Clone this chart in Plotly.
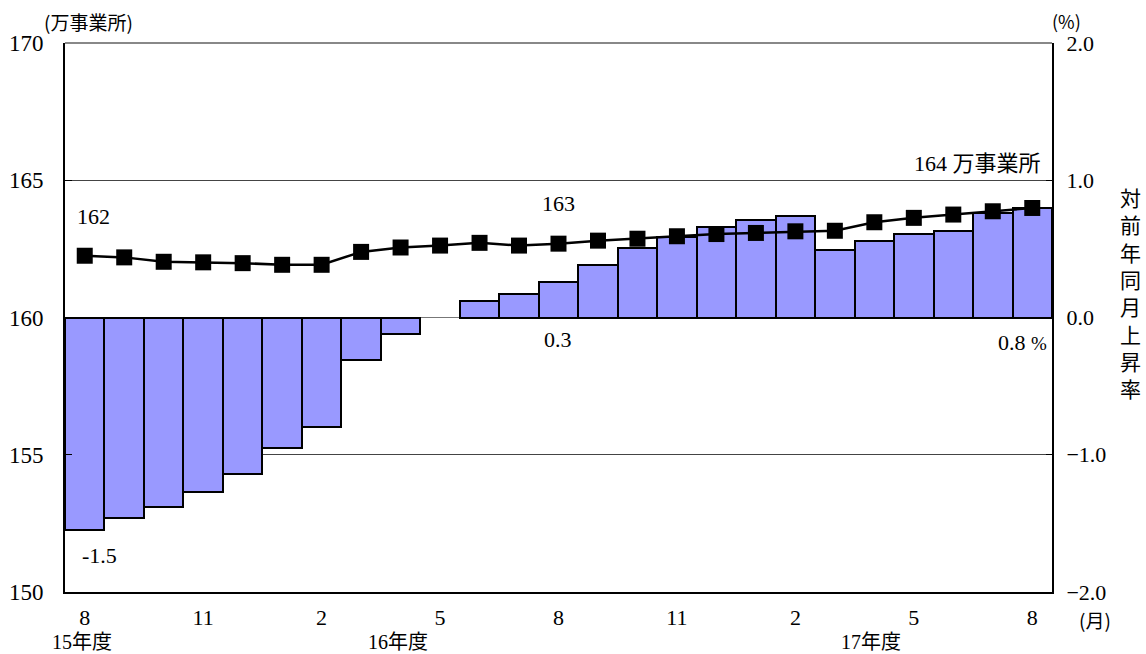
import plotly.graph_objects as go

# ---------------- data ----------------
months = ["2015-08", "2015-09", "2015-10", "2015-11", "2015-12", "2016-01", "2016-02",
          "2016-03", "2016-04", "2016-05", "2016-06", "2016-07", "2016-08", "2016-09",
          "2016-10", "2016-11", "2016-12", "2017-01", "2017-02", "2017-03", "2017-04",
          "2017-05", "2017-06", "2017-07", "2017-08"]

# number of establishments (万事業所), left axis
establishments = [162.25, 162.19, 162.03, 162.01, 161.98, 161.92, 161.92, 162.39, 162.55,
                  162.62, 162.72, 162.62, 162.69, 162.80, 162.87, 162.96, 163.04, 163.08,
                  163.14, 163.16, 163.47, 163.63, 163.75, 163.87, 163.99]

# year-over-year change (%), right axis
yoy_change = [-1.55, -1.46, -1.38, -1.27, -1.14, -0.95, -0.80, -0.31, -0.12, 0.0,
              0.12, 0.17, 0.26, 0.38, 0.51, 0.59, 0.66, 0.71, 0.74, 0.49,
              0.56, 0.61, 0.63, 0.76, 0.80]

tick_months = ["2015-08", "2015-11", "2016-02", "2016-05", "2016-08", "2016-11",
               "2017-02", "2017-05", "2017-08"]
tick_labels = ["8", "11", "2", "5", "8", "11", "2", "5", "8"]

fiscal_labels = ["15年度", "16年度", "17年度"]
fiscal_months = ["2015-08", "2016-04", "2017-04"]

left_ticks = [150, 155, 160, 165, 170]
right_ticks = [-2.0, -1.0, 0.0, 1.0, 2.0]

# ---------------- layout helpers ----------------
W, H = 1146, 654
X0, X1, Y0, Y1 = 65, 1052, 43, 592
FONT = "Liberation Serif, 'Noto Sans CJK JP', serif"
JFONT = "'Noto Sans CJK JP', sans-serif"


def px(x):
    return (x - X0) / (X1 - X0)


def py(y):
    return (Y1 - y) / (Y1 - Y0)


fig = go.Figure()

fig.add_trace(go.Bar(
    x=months, y=yoy_change, yaxis="y",
    marker=dict(color="#9999FF",
                line=dict(color="black", width=[0 if v == 0 else 2 for v in yoy_change])),
    width=1.0, showlegend=False, hoverinfo="x+y",
))

fig.add_trace(go.Scatter(
    x=months, y=establishments, yaxis="y2", mode="lines+markers",
    line=dict(color="black", width=2.5),
    marker=dict(symbol="square", size=16, color="black"),
    showlegend=False, cliponaxis=False,
))

ann = []


def add(text, x, y, size=22, xanchor="center", yanchor="middle", family=FONT):
    ann.append(dict(text=text, x=px(x), y=py(y), xref="paper", yref="paper",
                    showarrow=False, xanchor=xanchor, yanchor=yanchor,
                    font=dict(family=family, size=size, color="black")))


add("(万事業所)", 88, 22, size=19, family=JFONT)
add("(%)", 1066, 21, size=18, family=JFONT)
add("162", 93, 216)
add("163", 558, 203)
add("164 <span style='font-family:Noto Sans CJK JP'>万事業所</span>", 1043, 161, xanchor="right")
add("-1.5", 99, 555)
add("0.3", 558, 339)
add("0.8 <span style='font-size:19px'>%</span>", 1049, 342, xanchor="right")
add("<br>".join(list("対前年同月上昇率")), 1130, 292, size=21, family=JFONT)
add("(月)", 1095, 619, size=19, family=JFONT)

for lab, m in zip(fiscal_labels, fiscal_months):
    i = months.index(m)
    cx = X0 + (i + 0.5) * (X1 - X0) / len(months)
    add(lab, cx - 3, 642, size=20)

fig.update_layout(
    width=W, height=H,
    margin=dict(l=X0, r=W - X1, t=Y0, b=H - Y1, pad=0, autoexpand=False),
    plot_bgcolor="white", paper_bgcolor="white",
    bargap=0,
    font=dict(family=FONT, size=22, color="black"),
    xaxis=dict(type="category", categoryorder="array", categoryarray=months,
               range=[-0.5, len(months) - 0.5],
               tickmode="array", tickvals=tick_months, ticktext=tick_labels,
               ticks="", showgrid=False, zeroline=False, automargin=False,
               showline=True, linecolor="black", linewidth=2,
               ticklabelstandoff=5,
               tickfont=dict(family=FONT, size=22)),
    yaxis=dict(side="right", range=[-2, 2], tickmode="array", tickvals=right_ticks,
               tickformat=".1f", ticks="inside", ticklen=6, tickcolor="black",
               showgrid=True, gridcolor="#444", gridwidth=1, automargin=False,
               zeroline=True, zerolinecolor="#777", zerolinewidth=1,
               showline=True, linecolor="black", linewidth=2,
               ticklabelstandoff=8,
               tickfont=dict(family=FONT, size=22)),
    yaxis2=dict(side="left", overlaying="y", range=[150, 170], tickmode="array",
                tickvals=left_ticks, ticks="inside", ticklen=7, tickcolor="black",
                showgrid=False, zeroline=False, automargin=False,
                showline=True, linecolor="black", linewidth=2,
                ticklabelstandoff=15,
                tickfont=dict(family=FONT, size=23)),
    annotations=ann,
    shapes=[dict(type="line", xref="paper", yref="paper", x0=0, x1=1, y0=1, y1=1,
                 line=dict(color="#888", width=2))],
)

fig.write_html("out.html", config={"displayModeBar": False},
               post_script="document.body.style.margin='0px';")
